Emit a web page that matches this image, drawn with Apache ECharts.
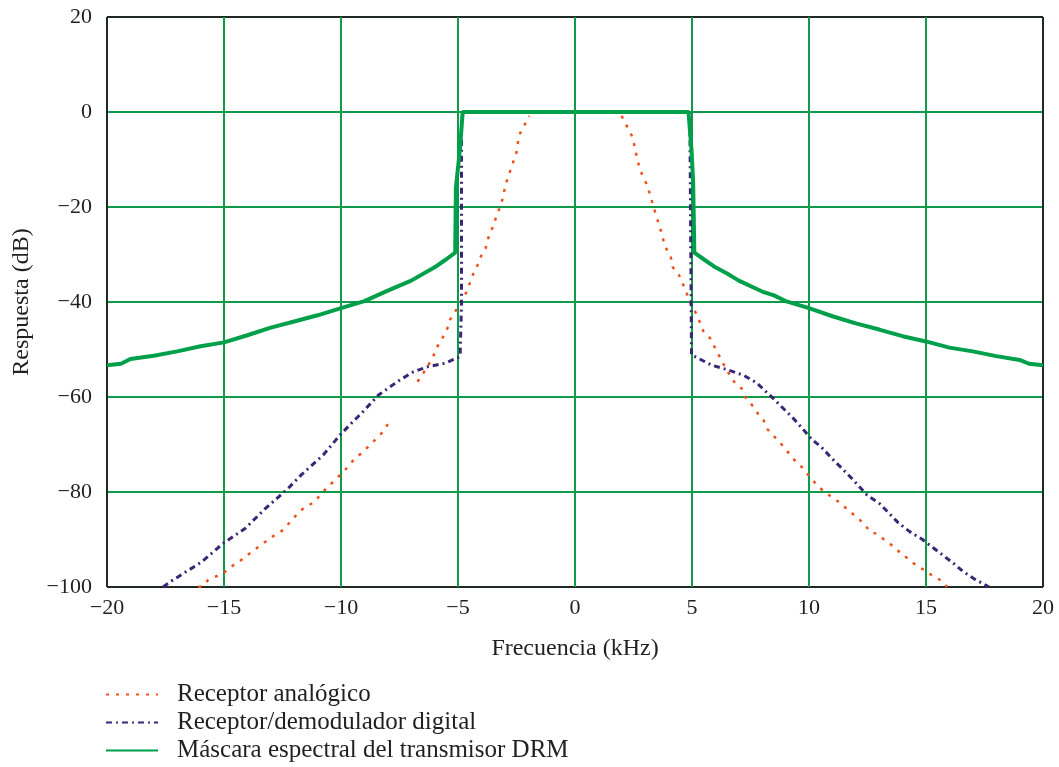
<!DOCTYPE html>
<html>
<head>
<meta charset="utf-8">
<script src="https://cdn.jsdelivr.net/npm/echarts@6/dist/echarts.min.js"></script>
<style>
html,body{margin:0;padding:0;background:#fff;}
#chart{width:1059px;height:767px;}
</style>
</head>
<body>
<div id="chart"></div>
<script>
const xTicks = [-20, -15, -10, -5, 0, 5, 10, 15, 20];
const yTicks = [20, 0, -20, -40, -60, -80, -100];
const seriesNames = ['Receptor analógico', 'Receptor/demodulador digital', 'Máscara espectral del transmisor DRM'];

// Máscara espectral del transmisor DRM
const maskFreq = [-20, -19.4, -19, -18, -17, -16, -15, -14, -13, -12, -11, -10, -9, -8, -7, -6, -5.5, -5.12, -5.09, -4.92, -4.8,
  4.85, 4.98, 5.05, 5.1, 5.5, 6, 6.5, 7, 8, 8.5, 9, 10, 11, 12, 13, 14, 15, 16, 17, 18, 19, 19.4, 20];
const maskDb = [-53.3, -53, -52, -51.3, -50.4, -49.3, -48.5, -47, -45.4, -44.1, -42.8, -41.3, -39.8, -37.6, -35.5, -32.7, -31, -29.6, -16, -8, 0,
  0, -8, -15, -29.6, -31, -32.7, -34, -35.5, -37.8, -38.6, -39.8, -41.3, -43, -44.5, -45.8, -47.2, -48.3, -49.6, -50.4, -51.4, -52.2, -53, -53.3];

// Receptor/demodulador digital
const digFreq = [-17.6, -17.3, -15.95, -15.03, -14.1, -13.3, -12.25, -11.7, -10.76, -10.04, -9.55, -9.12, -8.4, -7.48, -6.9, -6.27, -5.56, -4.91, -4.85, -4.85, -4.78,
  4.88, 4.91, 4.98, 5.13, 5.84, 6.48, 7.19, 7.76, 8.47, 9.33, 9.75, 10.11, 10.54, 10.97, 11.4, 11.9, 12.47, 13.03, 13.82, 14.32, 14.82, 15.32, 16.17, 16.6, 17.1, 17.7];
const digDb = [-100, -98.9, -94.7, -90.8, -87.7, -83.8, -79.2, -76.4, -72.2, -68, -65.5, -63.4, -59.6, -56.4, -54.7, -53.6, -52.9, -51.5, -40, -2.3, 0,
  0, -2.3, -51.2, -51.5, -53.3, -54.2, -55.4, -57, -60.3, -64.5, -66.8, -68.9, -70.6, -72.9, -75, -77.5, -80.6, -82.5, -86.5, -88.4, -89.9, -91.8, -95, -96.8, -98.4, -100];

// Receptor analógico (null = gap in the trace)
const anaFreq = [-16.1, -15.96, -15.67, -15.03, -14.6, -14.39, -13.82, -13.32, -12.82, -12.47, -12.04, -11.6, -11.1, -10.9, -10.47, -10.26, -9.83, -9.47, -9.05, -8.62, -8.2, -7.84,
  -7.3,
  -6.73, -6.56, -6.27, -6.06, -5.92, -5.63, -5.42, -5.35, -4.85, -4.63, -4.42, -4.3, -4.13, -3.99, -3.82, -3.66, -3.49, -3.39, -3.13, -2.96, -2.88, -2.5, -2.45, -2.38, -1.95,
  0,
  1.99, 2.41, 2.52, 2.67, 2.78, 3.1, 3.42, 3.63, 3.75, 3.8, 4.09, 4.17, 4.44, 4.7, 4.98, 5.13, 5.27, 5.49, 5.77, 6.06, 6.48, 6.84, 7.12, 7.31, 7.69, 7.83, 8.05, 8.19,
  8.83, 9.47, 9.68, 10.04, 10.4, 10.75, 11.25, 11.75, 12.18, 12.39, 12.61, 12.9, 13.18, 13.75, 13.97, 14.25, 14.47, 14.76, 14.97, 15.24, 15.74, 15.9];
const anaDb = [-100, -99.9, -98.5, -97.1, -95.4, -94.8, -92.6, -90.8, -89, -88, -85.5, -83.4, -82, -80.6, -78.5, -77.5, -75.4, -73.3, -71.5, -69.4, -67.3, -64.5,
  null,
  -56.8, -55.6, -53.3, -51.5, -49.7, -47.3, -45.2, -43.8, -39.9, -37.8, -35, -33.5, -31.9, -30, -28.7, -25.7, -24, -22.4, -19, -15.2, -14, -8.5, -6.7, -4.8, -0.8,
  null,
  -0.8, -4.8, -6.7, -10.1, -12.2, -15.6, -21, -24.4, -26.2, -27.8, -30.5, -32.6, -34.3, -37.2, -40.8, -42, -43.4, -46.2, -47.6, -50.4, -54.3, -57.1, -58.2, -60.3, -62.4, -63.6, -64.8, -66.6,
  -70, -73.8, -74.7, -76.8, -78.9, -80.3, -82, -84.1, -85.9, -86.9, -88.4, -88.8, -89.9, -92, -93.3, -94, -95, -96, -96.5, -97.5, -98.9, -100];

function zip(xs, ys) { return xs.map((x, i) => [x, ys[i]]); }
const minus = v => String(v).replace('-', '\u2212');

const FONT = 'Liberation Serif';
const TXT = '#231f20';
const GRID_GREEN = '#0f9a4a';
const FRAME = '#1f2a24';
// first and last split lines form the black frame
const xLineColors = xTicks.map((t, i) => (i === 0 || i === xTicks.length - 1) ? FRAME : GRID_GREEN);
const yLineColors = yTicks.map((t, i) => (i === 0 || i === yTicks.length - 1) ? FRAME : GRID_GREEN);

const chart = echarts.init(document.getElementById('chart'));
chart.setOption({
  animation: false,
  backgroundColor: '#ffffff',
  grid: { left: 107, right: 16, top: 17, bottom: 180, show: false },
  xAxis: {
    type: 'value', min: xTicks[0], max: xTicks[xTicks.length - 1], interval: 5,
    name: 'Frecuencia (kHz)', nameLocation: 'middle', nameGap: 50,
    nameTextStyle: { fontFamily: FONT, fontSize: 24, color: TXT },
    axisLine: { show: false },
    axisTick: { show: false },
    axisLabel: { fontFamily: FONT, fontSize: 22, color: TXT, margin: 10, formatter: v => minus(v) },
    splitLine: { show: true, lineStyle: { color: xLineColors, width: 2 } }
  },
  yAxis: {
    type: 'value', min: yTicks[yTicks.length - 1], max: yTicks[0], interval: 20,
    name: 'Respuesta (dB)', nameLocation: 'middle', nameGap: 73, nameRotate: 90,
    nameTextStyle: { fontFamily: FONT, fontSize: 24, color: TXT },
    axisLine: { show: false },
    axisTick: { show: false },
    axisLabel: { fontFamily: FONT, fontSize: 22, color: TXT, margin: 15, formatter: v => minus(v) },
    splitLine: { show: true, lineStyle: { color: yLineColors.slice().reverse(), width: 2 } }
  },
  legend: {
    orient: 'vertical', left: 105, top: 682, padding: 0, itemWidth: 52, itemHeight: 14, itemGap: 3,
    selectedMode: false,
    itemStyle: { opacity: 0 },
    textStyle: { fontFamily: FONT, fontSize: 25, color: TXT, lineHeight: 24, padding: [0, 0, 0, 14] },
    data: seriesNames
  },
  series: [
    {
      name: seriesNames[0], type: 'line', symbol: 'none', connectNulls: false,
      data: zip(anaFreq, anaDb),
      lineStyle: { color: '#f0501e', width: 2.5, type: [3, 7] },
      itemStyle: { color: '#f0501e' }
    },
    {
      name: seriesNames[1], type: 'line', symbol: 'none',
      data: zip(digFreq, digDb),
      lineStyle: { color: '#3a2577', width: 3, type: [6, 4, 2, 4] },
      itemStyle: { color: '#3a2577' }
    },
    {
      name: seriesNames[2], type: 'line', symbol: 'none',
      data: zip(maskFreq, maskDb),
      lineStyle: { color: '#00a04a', width: 4 },
      itemStyle: { color: '#00a04a' }
    }
  ]
});
</script>
</body>
</html>
